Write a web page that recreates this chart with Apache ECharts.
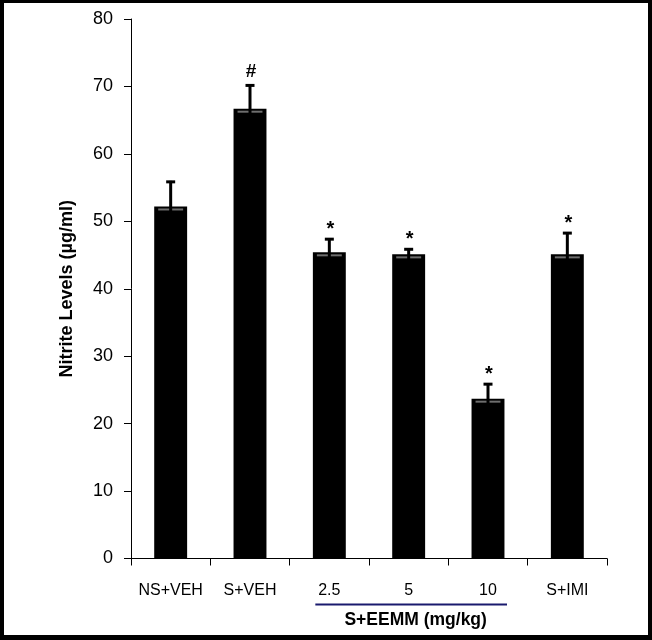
<!DOCTYPE html>
<html>
<head>
<meta charset="utf-8">
<script src="https://cdn.jsdelivr.net/npm/echarts@6/dist/echarts.min.js"></script>
<style>
  html, body { margin: 0; padding: 0; background: #fff; }
  #wrap { position: relative; width: 652px; height: 640px; }
  #chart { position: absolute; left: 0; top: 0; width: 652px; height: 640px; }
  #frame { position: absolute; left: 0; top: 0; width: 652px; height: 640px; box-sizing: border-box;
           border-style: solid; border-color: #000; border-width: 3px 4px 5px 4px; pointer-events: none; }
</style>
</head>
<body>
<div id="wrap"><div id="chart"></div><div id="frame"></div></div>
<script>
const categories = ['NS+VEH', 'S+VEH', '2.5', '5', '10', 'S+IMI'];
const means = [52.2, 66.7, 45.4, 45.1, 23.7, 45.1];
const errors = [3.8, 3.6, 2.1, 0.9, 2.3, 3.3];
const marks = ['', '#', '*', '*', '*', '*'];
const yMin = 0, yMax = 80, yInterval = 10;
const yTitle = 'Nitrite Levels (µg/ml)';
const groupLabel = 'S+EEMM (mg/kg)';
const groupFrom = '2.5', groupTo = '10';

const FONT = 'Liberation Sans';
const chart = echarts.init(document.getElementById('chart'));

const errData = categories.map((c, i) => [i, means[i], errors[i]]);

const option = {
  animation: false,
  backgroundColor: '#fff',
  grid: { left: 131, right: 45, top: 19, bottom: 81.5 },
  xAxis: {
    type: 'category',
    data: categories,
    boundaryGap: true,
    axisLine: { show: true, lineStyle: { color: '#000', width: 1 } },
    axisTick: { show: true, inside: false, length: 7, interval: 0, lineStyle: { color: '#000' } },
    axisLabel: { color: '#000', fontFamily: FONT, fontSize: 16, margin: 24, interval: 0 },
    splitLine: { show: false }
  },
  yAxis: {
    type: 'value',
    min: yMin, max: yMax, interval: yInterval,
    name: yTitle,
    nameLocation: 'middle',
    nameGap: 55,
    nameTextStyle: { color: '#000', fontFamily: FONT, fontWeight: 'bold', fontSize: 18 },
    axisLine: { show: true, lineStyle: { color: '#000', width: 1 } },
    axisTick: { show: true, inside: false, length: 7, lineStyle: { color: '#000' } },
    axisLabel: { color: '#000', fontFamily: FONT, fontSize: 18, margin: 18 },
    splitLine: { show: false }
  },
  series: [
    {
      type: 'bar',
      data: means,
      barWidth: '41.5%',
      itemStyle: { color: '#000' }
    },
    {
      type: 'custom',
      data: errData,
      z: 5,
      renderItem: function (params, api) {
        const i = api.value(0);
        const m = api.value(1);
        const e = api.value(2);
        const mk = marks[i];
        const pMean = api.coord([i, m]);
        const pTop = api.coord([i, m + e]);
        const bw = api.size([1, 0])[0] * 0.415;
        const x = pMean[0];
        const children = [];
        children.push({ type: 'line', shape: { x1: x - bw / 2 + 4, y1: pMean[1] + 3, x2: x + bw / 2 - 4, y2: pMean[1] + 3 },
          style: { stroke: '#6e6e6e', lineWidth: 2 } });
        children.push({ type: 'line', shape: { x1: x, y1: pMean[1] + 6, x2: x, y2: pTop[1] },
          style: { stroke: '#000', lineWidth: 3 } });
        children.push({ type: 'line', shape: { x1: x - 4.5, y1: pTop[1] + 1, x2: x + 4.5, y2: pTop[1] + 1 },
          style: { stroke: '#000', lineWidth: 3 } });
        if (mk) {
          children.push({ type: 'text', style: { text: mk, x: x + 1, y: mk === '#' ? pTop[1] - 3 : pTop[1] + 1,
            align: 'center', verticalAlign: 'bottom',
            fontFamily: FONT, fontWeight: 'bold', fontSize: mk === '#' ? 19 : 20, fill: '#000' } });
        }
        return { type: 'group', children: children };
      }
    }
  ]
};
chart.setOption(option);

const xFrom = chart.convertToPixel({ xAxisIndex: 0 }, groupFrom);
const xTo = chart.convertToPixel({ xAxisIndex: 0 }, groupTo);
const y0 = chart.convertToPixel({ yAxisIndex: 0 }, 0);
chart.setOption({
  graphic: [
    { type: 'line', shape: { x1: xFrom - 14, y1: y0 + 46, x2: xTo + 19, y2: y0 + 46 },
      style: { stroke: '#1a1a6e', lineWidth: 2 } },
    { type: 'text', x: (xFrom + xTo) / 2 + 7, y: y0 + 62,
      style: { text: groupLabel, align: 'center', verticalAlign: 'middle', fontFamily: FONT, fontWeight: 'bold', fontSize: 17.5, fill: '#000' } }
  ]
});
</script>
</body>
</html>
